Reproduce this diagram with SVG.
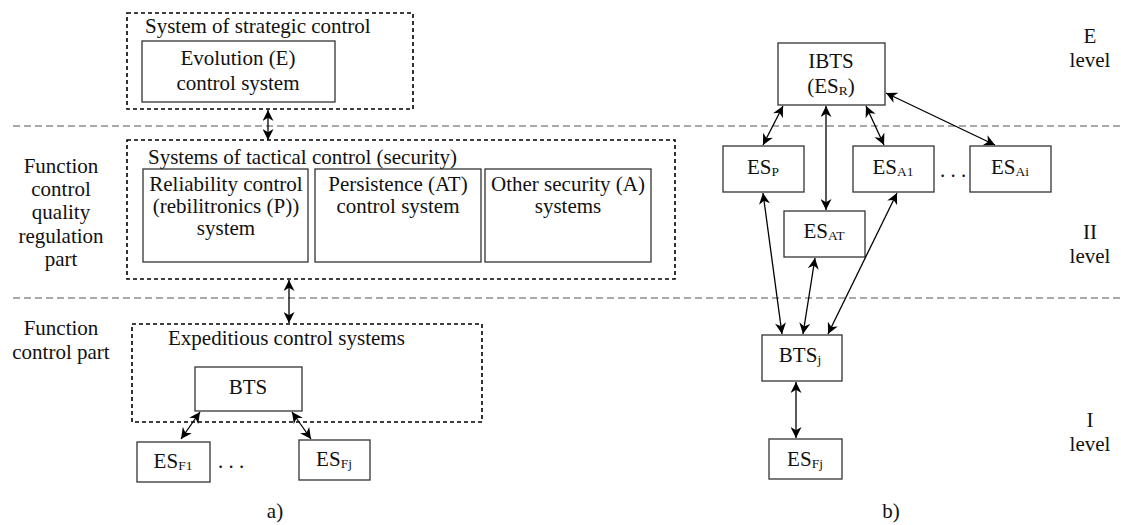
<svg xmlns="http://www.w3.org/2000/svg" width="1121" height="525" viewBox="0 0 1121 525">
<defs>
<marker id="ah" viewBox="0 0 10 10" refX="10" refY="5" markerWidth="12" markerHeight="11" markerUnits="userSpaceOnUse" orient="auto-start-reverse">
<path d="M0,0 L10,5 L0,10 L3,5 z" fill="#000"/>
</marker>
<style>
text{font-family:"Liberation Serif","Times New Roman",serif;font-size:21px;fill:#111}
.c{text-anchor:middle}
.box{fill:#fff;stroke:#333;stroke-width:1.3}
.dbox{fill:none;stroke:#000;stroke-width:1.6;stroke-dasharray:4 3}
.sep{stroke:#555;stroke-width:1;stroke-dasharray:7 4}
.con line{stroke:#000;stroke-width:1.3;marker-start:url(#ah);marker-end:url(#ah)}
.sub{font-size:13.5px}
</style>
</defs>
<rect width="1121" height="525" fill="#fff"/>
<g id="separators">
<line class="sep" x1="13" y1="126" x2="1121" y2="126"/>
<line class="sep" x1="13" y1="298" x2="1121" y2="298"/>
</g>
<g id="labels-left">
<text class="c" x="61" y="173">Function</text>
<text class="c" x="61" y="196">control</text>
<text class="c" x="61" y="219">quality</text>
<text class="c" x="61" y="243">regulation</text>
<text class="c" x="61" y="266">part</text>
<text class="c" x="61" y="335">Function</text>
<text class="c" x="61" y="359">control part</text>
</g>
<g id="strategic">
<rect class="dbox" x="127" y="13" width="286" height="96"/>
<text x="145" y="33">System of strategic control</text>
</g>
<g id="evolution">
<rect class="box" x="142" y="41" width="193" height="61"/>
<text class="c" x="238" y="65">Evolution (E)</text>
<text class="c" x="238" y="90">control system</text>
</g>
<g id="tactical">
<rect class="dbox" x="127" y="140" width="548" height="139"/>
<text x="148" y="164">Systems of tactical control (security)</text>
</g>
<g id="reliability">
<rect class="box" x="143" y="169" width="165" height="93"/>
<text class="c" x="226" y="191">Reliability control</text>
<text class="c" x="226" y="213">(rebilitronics (P))</text>
<text class="c" x="226" y="235">system</text>
</g>
<g id="persistence">
<rect class="box" x="315" y="169" width="166" height="93"/>
<text class="c" x="398" y="191">Persistence (AT)</text>
<text class="c" x="398" y="213">control system</text>
</g>
<g id="other">
<rect class="box" x="485" y="169" width="166" height="93"/>
<text class="c" x="568" y="191">Other security (A)</text>
<text class="c" x="568" y="213">systems</text>
</g>
<g id="expeditious">
<rect class="dbox" x="132" y="324" width="350" height="98"/>
<text x="168" y="345">Expeditious control systems</text>
</g>
<g id="bts">
<rect class="box" x="195" y="367" width="107" height="44"/>
<text class="c" x="248" y="394">BTS</text>
</g>
<g id="esf1">
<rect class="box" x="137" y="442" width="73" height="40"/>
<text class="c" x="173" y="468">ES<tspan class="sub" dy="2">F1</tspan></text>
</g>
<g id="esfj-a">
<rect class="box" x="299" y="440" width="71" height="40"/>
<text class="c" x="334" y="466">ES<tspan class="sub" dy="2">Fj</tspan></text>
</g>
<text x="218" y="468">. . .</text>
<text class="c" x="275" y="518">a)</text>

<g id="ibts">
<rect class="box" x="778" y="43" width="107" height="62"/>
<text class="c" x="831" y="68">IBTS</text>
<text class="c" x="831" y="93">(ES<tspan class="sub" dy="2">R</tspan><tspan dy="-2">)</tspan></text>
</g>
<g id="esp">
<rect class="box" x="723" y="146" width="81" height="46"/>
<text class="c" x="763" y="174">ES<tspan class="sub" dy="2">P</tspan></text>
</g>
<g id="esa1">
<rect class="box" x="853" y="146" width="81" height="46"/>
<text class="c" x="893" y="174">ES<tspan class="sub" dy="2">A1</tspan></text>
</g>
<g id="esai">
<rect class="box" x="970" y="146" width="81" height="46"/>
<text class="c" x="1010" y="174">ES<tspan class="sub" dy="2">Ai</tspan></text>
</g>
<text x="940" y="177">. . .</text>
<g id="esat">
<rect class="box" x="784" y="211" width="81" height="46"/>
<text class="c" x="824" y="238">ES<tspan class="sub" dy="2">AT</tspan></text>
</g>
<g id="btsj">
<rect class="box" x="762" y="335" width="80" height="46"/>
<text class="c" x="800" y="362">BTS<tspan class="sub" dy="2">j</tspan></text>
</g>
<g id="esfj-b">
<rect class="box" x="769" y="439" width="73" height="40"/>
<text class="c" x="805" y="466">ES<tspan class="sub" dy="2">Fj</tspan></text>
</g>
<text class="c" x="891" y="518">b)</text>
<g id="labels-right">
<text class="c" x="1090" y="43">E</text>
<text class="c" x="1090" y="67">level</text>
<text class="c" x="1090" y="239">II</text>
<text class="c" x="1090" y="263">level</text>
<text class="c" x="1090" y="427">I</text>
<text class="c" x="1090" y="451">level</text>
</g>
<g id="connectors" class="con">
<line x1="268" y1="110" x2="268" y2="140"/>
<line x1="289" y1="280" x2="289" y2="323"/>
<line x1="200" y1="412" x2="181" y2="439"/>
<line x1="292" y1="412" x2="311" y2="439"/>
<line x1="783" y1="106" x2="763" y2="145"/>
<line x1="826" y1="106" x2="826" y2="210"/>
<line x1="866" y1="106" x2="884" y2="145"/>
<line x1="886" y1="93" x2="995" y2="145"/>
<line x1="763" y1="193" x2="782" y2="334"/>
<line x1="815" y1="258" x2="803" y2="334"/>
<line x1="897" y1="193" x2="828" y2="334"/>
<line x1="796" y1="382" x2="796" y2="438"/>
</g>
</svg>
